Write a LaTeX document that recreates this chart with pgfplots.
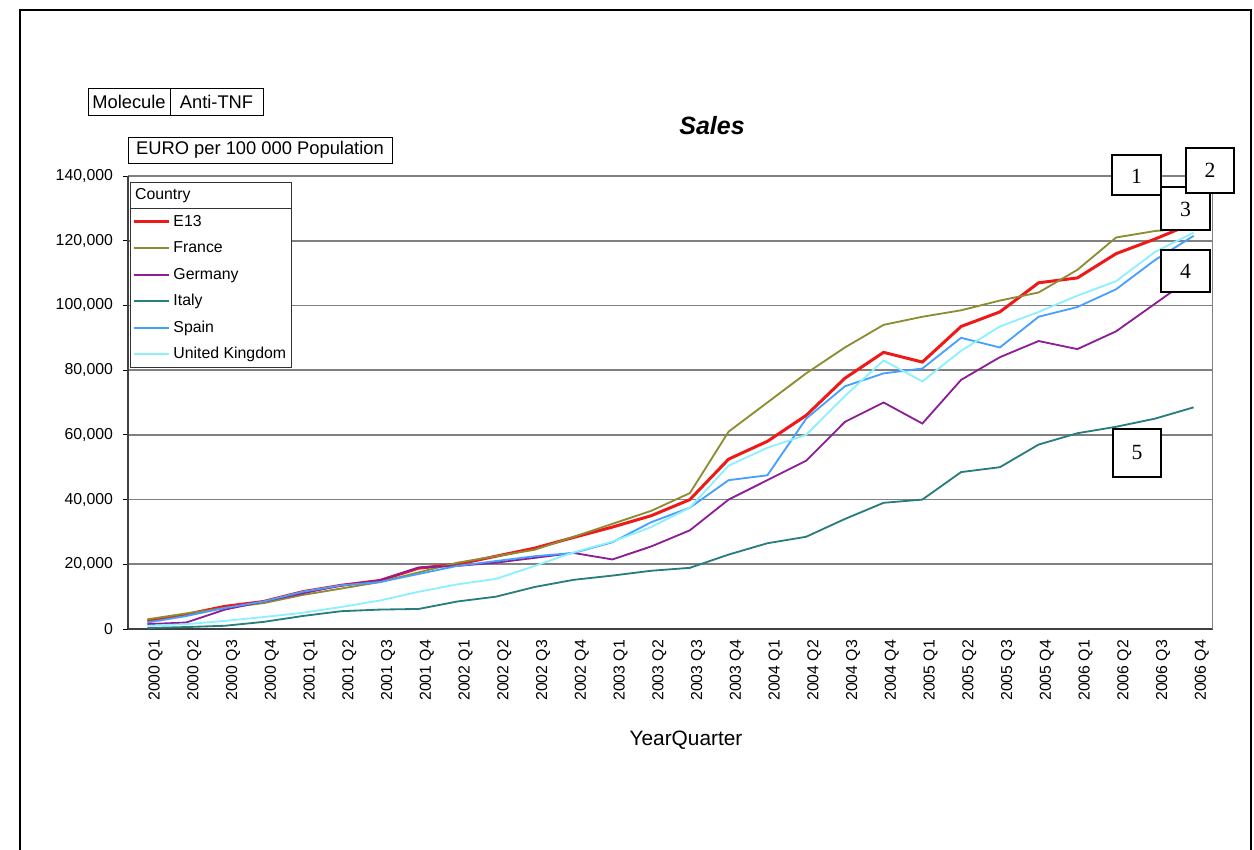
\documentclass[border=0pt]{standalone}
\usepackage{pgfplots}
\pgfplotsset{compat=1.18}
\usepackage{pgfplotstable}
\usepackage{fontspec}
\setmainfont{Liberation Sans}
\newfontfamily\serifbox{Liberation Serif}
\newcommand\tickfont{\fontsize{9.5}{11}\selectfont}
\newcommand\legfont{\fontsize{9.5}{11}\selectfont}
\definecolor{e13}{RGB}{240,25,25}
\definecolor{france}{RGB}{140,140,50}
\definecolor{germany}{RGB}{140,30,150}
\definecolor{italy}{RGB}{40,125,125}
\definecolor{spain}{RGB}{70,160,255}
\definecolor{uk}{RGB}{140,240,255}
\pgfplotstableread{
i  E13    France Germany Italy Spain  UK
0  2500   3000   1500    300   2000   1000
1  4500   4800   2000    600   4000   1500
2  7000   6500   6000    1000  6500   2500
3  8500   8000   8500    2200  8500   3700
4  11500  10500  11000   4000  11500  5000
5  13500  12500  13500   5500  13500  6800
6  15000  14500  15000   6000  14500  8800
7  18800  17500  19000   6200  17000  11500
8  20000  20500  19500   8500  19500  13800
9  22500  22500  20500   10000 21000  15500
10 25000  24500  22000   13000 22500  19500
11 28300  28500  23500   15200 23500  23700
12 31500  32500  21500   16500 26800  27000
13 35000  36500  25500   18000 33000  31500
14 40000  42000  30500   18900 37500  37500
15 52500  61000  40000   23000 46000  50500
16 58000  70000  46000   26500 47500  56000
17 66000  79000  52000   28500 65000  60000
18 77500  87000  64000   34000 75000  72000
19 85500  94000  70000   39000 79000  83000
20 82500  96500  63500   40000 80500  76500
21 93500  98500  77000   48500 90000  86000
22 98000  101500 84000   50000 87000  93500
23 107000 104000 89000   57000 96500  98000
24 108500 111000 86500   60500 99500  103000
25 116000 121000 92000   62500 105000 107500
26 120500 123000 100500  65000 114000 116500
27 125500 124000 109000  68500 121500 122500
}\data
\begin{document}
\begin{tikzpicture}
\begin{scope}[x=0.6pt,y=-0.6pt]
\path[use as bounding box] (0,0) rectangle (1254,850);
\draw[line width=0.8pt] (20,850) -- (20,10) -- (1251,10) -- (1251,850);
\end{scope}
\begin{axis}[
  at={(76.8pt,-377.4pt)}, anchor=south west,
  scale only axis, width=651pt, height=271.8pt,
  xmin=-0.5, xmax=27.5, ymin=0, ymax=140000,
  axis lines=left, axis line style={-, black!75, line width=0.8pt},
  tick align=outside, major tick length=3pt, minor tick length=3pt,
  tick style={black, line width=0.6pt},
  xtick={0,...,27}, xtick style={draw=none},
  minor xtick={0.5,1.5,...,26.5},
  minor x tick style={black, line width=0.6pt},
  xticklabels={2000 Q1,2000 Q2,2000 Q3,2000 Q4,2001 Q1,2001 Q2,2001 Q3,2001 Q4,2002 Q1,2002 Q2,2002 Q3,2002 Q4,2003 Q1,2003 Q2,2003 Q3,2003 Q4,2004 Q1,2004 Q2,2004 Q3,2004 Q4,2005 Q1,2005 Q2,2005 Q3,2005 Q4,2006 Q1,2006 Q2,2006 Q3,2006 Q4},
  xticklabel style={rotate=90, anchor=east, font=\tickfont, yshift=-5pt},
  ytick={0,20000,...,140000},
  scaled y ticks=false,
  yticklabel style={font=\tickfont, xshift=-2.5pt, /pgf/number format/.cd, fixed, 1000 sep={,}, assume math mode=true},
  ymajorgrids, major grid style={black!50, line width=1pt},
  legend cell align=left,
  legend image code/.code={\draw[#1] (0pt,0pt) -- (21pt,0pt);},
  legend style={name=leg, at={(0.0018,0.9868)}, anchor=north west,
    draw=black!80, line width=0.6pt, fill=white, inner sep=1pt,
    row sep=2.4pt, font=\legfont,
    nodes={inner sep=2pt, text height=7.5pt, text depth=2pt}},
]
\addlegendimage{empty legend}
\addlegendentry{\makebox[0pt][l]{\kern-23pt Country}}
\addplot[color=e13, line width=1.8pt] table[x=i,y=E13]{\data};
\addlegendentry{E13}
\addplot[color=france, line width=1.1pt] table[x=i,y=France]{\data};
\addlegendentry{France}
\addplot[color=germany, line width=1.1pt] table[x=i,y=Germany]{\data};
\addlegendentry{Germany}
\addplot[color=italy, line width=1.1pt] table[x=i,y=Italy]{\data};
\addlegendentry{Italy}
\addplot[color=spain, line width=1.1pt] table[x=i,y=Spain]{\data};
\addlegendentry{Spain}
\addplot[color=uk, line width=1.1pt] table[x=i,y=UK]{\data};
\addlegendentry{United Kingdom}
\draw[black!50, line width=1pt] (rel axis cs:1,0) -- (rel axis cs:1,1);
\end{axis}
\draw[black!80, line width=0.6pt] ([yshift=-15.7pt]leg.north west) -- ([yshift=-15.7pt]leg.north east);
\begin{scope}[x=0.6pt,y=-0.6pt]
\node[font=\fontsize{15}{18}\selectfont\bfseries\itshape] at (712,126) {Sales};
\node[font=\fontsize{12.5}{15}\selectfont] at (686,740) {YearQuarter};
\draw[line width=0.6pt] (88,88) rectangle (263,115);
\draw[line width=0.6pt] (170,88) -- (170,115);
\node[font=\fontsize{11}{13}\selectfont] at (129,101.5) {Molecule};
\node[font=\fontsize{11}{13}\selectfont] at (216.5,101.5) {Anti-TNF};
\draw[line width=0.6pt, fill=white] (128,137) rectangle (392,163);
\node[font=\fontsize{11}{13}\selectfont] at (260,150) {EURO per 100 000 Population};
\tikzset{nb/.style={draw=black, line width=1pt, fill=white}}
\draw[nb] (1161,187) rectangle (1210,230);
\node[font=\serifbox\fontsize{13}{15}\selectfont] at (1185.5,209) {3};
\draw[nb] (1112,155) rectangle (1161,195);
\node[font=\serifbox\fontsize{13}{15}\selectfont] at (1136.5,176) {1};
\draw[nb] (1186,148) rectangle (1234,193);
\node[font=\serifbox\fontsize{13}{15}\selectfont] at (1210,170) {2};
\draw[nb] (1161,250) rectangle (1210,292);
\node[font=\serifbox\fontsize{13}{15}\selectfont] at (1185.5,271) {4};
\draw[nb] (1113,429) rectangle (1161,477);
\node[font=\serifbox\fontsize{13}{15}\selectfont] at (1137,453) {5};
\end{scope}
\end{tikzpicture}
\end{document}
